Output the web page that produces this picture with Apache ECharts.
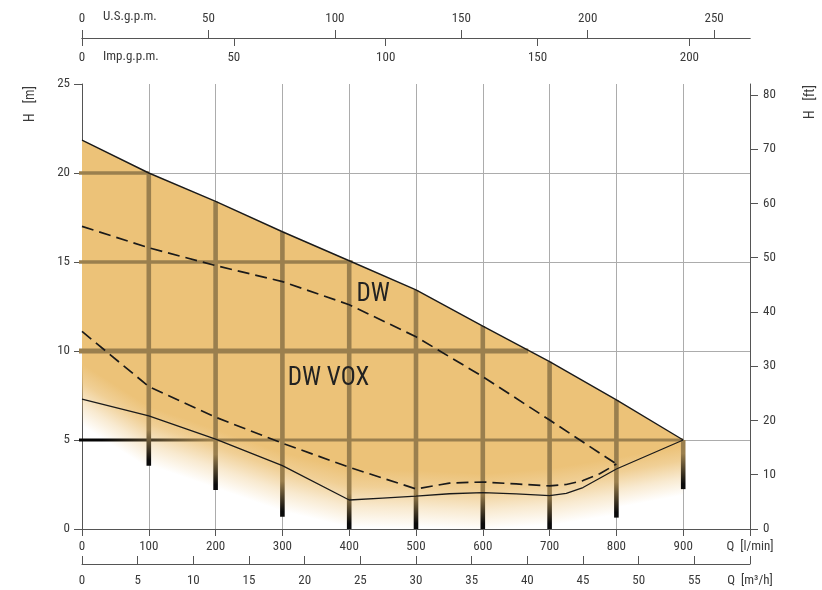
<!DOCTYPE html>
<html><head><meta charset="utf-8">
<script src="https://cdn.jsdelivr.net/npm/echarts@6/dist/echarts.min.js"></script>
<style>html,body{margin:0;padding:0;background:#fff}#c{width:822px;height:590px}</style>
</head><body><div id="c"></div>
<script>
// ---------------- data ----------------
const qTop   = [0, 100, 200, 300, 400, 500, 600, 700, 800, 900];
const hTop   = [21.85, 20.0, 18.4, 16.7, 15.07, 13.43, 11.4, 9.4, 7.25, 5.0];
const qDwMin = [0, 100, 200, 300, 400, 500, 600, 700, 800];
const hDwMin = [17.0, 15.8, 14.8, 13.9, 12.6, 10.8, 8.56, 6.12, 3.65];
const qVoxMax = [0, 100, 200, 300, 400, 500, 550, 600, 650, 700, 725, 750, 775, 800];
const hVoxMax = [11.1, 8.0, 6.28, 4.82, 3.47, 2.25, 2.58, 2.64, 2.53, 2.42, 2.5, 2.72, 3.1, 3.65];
const qVoxMin = [0, 100, 200, 300, 400, 450, 500, 550, 600, 650, 700, 725, 750, 775, 800, 900];
const hVoxMin = [7.3, 6.35, 5.05, 3.56, 1.63, 1.74, 1.85, 1.98, 2.04, 1.97, 1.88, 2.0, 2.33, 2.85, 3.37, 5.0];
// soft lower edge of the coloured field
const qFade      = [0, 100, 200, 300, 400, 500, 600, 700, 800, 900];
const hFadeStart = [9.3, 6.9, 5.6, 4.3, 3.4, 3.3, 3.1, 3.4, 4.0, 4.7];
const hFadeEnd   = [5.6, 3.6, 2.3, 1.0, 0.1, 0.0, 0.0, 0.2, 0.8, 2.3];
// thick grid bars inside the field
const vBarQ      = [100, 200, 300, 400, 500, 600, 700, 800, 900];
const vBarTop    = [20.0, 18.4, 16.7, 15.07, 13.43, 11.4, 9.4, 7.25, 5.0];
const vBarBottom = [3.56, 2.19, 0.69, 0, 0, 0, 0, 0.64, 2.24];
const hBarH   = [20, 15, 10, 5];
const hBarEnd = [100, 405, 668, 900];
// axis ticks
const qTicks   = [0, 100, 200, 300, 400, 500, 600, 700, 800, 900];
const m3hTicks = [0, 5, 10, 15, 20, 25, 30, 35, 40, 45, 50, 55];
const usTicks  = [0, 50, 100, 150, 200, 250];
const impTicks = [0, 50, 100, 150, 200];
const ftTicks  = [0, 10, 20, 30, 40, 50, 60, 70, 80];
// curve labels
const curveLabels = ['DW', 'DW VOX'];
const labelQ = [436, 369];
const labelH = [13.15, 8.43];

// ---------------- style ----------------
const FONT = "'Roboto Condensed', 'Liberation Sans Narrow', 'DejaVu Sans Condensed', 'Roboto', sans-serif";
const ORANGE = 'rgba(236,194,120,';
const BROWN = '#9a7f4e';
const AX = '#555';
const lbl = {color: '#3a3a3a', fontSize: 13, fontFamily: FONT};
const pair = (qs, hs) => qs.map((q, i) => [q, hs[i]]);

const chart = echarts.init(document.getElementById('c'), null, {renderer: 'canvas'});

function fillItem(params, api) {
  const i = params.dataIndex;
  const a = api.coord([qTop[i], hTop[i]]), b = api.coord([qTop[i + 1], hTop[i + 1]]);
  const b0 = api.coord([qTop[i + 1], 0]), a0 = api.coord([qTop[i], 0]);
  const s0 = api.coord([qFade[i], hFadeStart[i]]), s1 = api.coord([qFade[i + 1], hFadeStart[i + 1]]);
  const e0 = api.coord([qFade[i], hFadeEnd[i]]), e1 = api.coord([qFade[i + 1], hFadeEnd[i + 1]]);
  let ux = s1[0] - s0[0], uy = s1[1] - s0[1];
  const L = Math.hypot(ux, uy); ux /= L; uy /= L;
  const nx = -uy, ny = ux;
  const mx = (e0[0] + e1[0]) / 2 - s0[0], my = (e0[1] + e1[1]) / 2 - s0[1];
  const d = mx * nx + my * ny;
  return {
    type: 'polygon',
    shape: {points: [a, b, b0, a0]},
    style: {
      fill: {
        type: 'linear', global: true,
        x: s0[0], y: s0[1], x2: s0[0] + nx * d, y2: s0[1] + ny * d,
        colorStops: [
          {offset: 0, color: ORANGE + '1)'},
          {offset: 0.3, color: ORANGE + '0.78)'},
          {offset: 0.65, color: ORANGE + '0.35)'},
          {offset: 1, color: ORANGE + '0)'}
        ]
      }
    }
  };
}

function vBarItem(params, api) {
  const i = params.dataIndex;
  const t = api.coord([vBarQ[i], vBarTop[i]]);
  const bt = api.coord([vBarQ[i], vBarBottom[i]]);
  const g0 = api.coord([vBarQ[i], vBarBottom[i] + 2.0]);
  const g1 = api.coord([vBarQ[i], vBarBottom[i] + 0.3]);
  const w = 4.6;
  return {
    type: 'rect',
    shape: {x: t[0] - w / 2, y: t[1], width: w, height: bt[1] - t[1]},
    style: {
      fill: {
        type: 'linear', global: true, x: 0, y: g0[1], x2: 0, y2: g1[1],
        colorStops: [{offset: 0, color: BROWN}, {offset: 1, color: '#0a0a0a'}]
      }
    }
  };
}

function hBarItem(params, api) {
  const i = params.dataIndex;
  const h = hBarH[i];
  const l = api.coord([0, h]), r = api.coord([hBarEnd[i], h]);
  const w = h === 10 ? 5 : (h === 5 ? 3 : 3.6);
  let fill = BROWN;
  if (h === 5) {
    const k0 = api.coord([30, h]), k1 = api.coord([190, h]);
    fill = {type: 'linear', global: true, x: k0[0], y: 0, x2: k1[0], y2: 0,
      colorStops: [{offset: 0, color: '#050505'}, {offset: 1, color: BROWN}]};
  }
  return {
    type: 'rect',
    shape: {x: l[0] - 3, y: l[1] - w / 2, width: r[0] - l[0] + 3, height: w},
    style: {fill: fill}
  };
}

function textItem(params, api) {
  const i = params.dataIndex;
  const p = api.coord([labelQ[i], labelH[i]]);
  return {
    type: 'text', x: p[0], y: p[1],
    style: {text: curveLabels[i], fill: '#222', fontSize: 25, fontFamily: FONT,
      align: 'center', verticalAlign: 'middle'}
  };
}

const option = {
  backgroundColor: '#fff',
  animation: false,
  grid: {left: 82, right: 72, top: 84, bottom: 61, containLabel: false},
  xAxis: [
    { // l/min
      type: 'value', position: 'bottom', min: 0, max: 1000, interval: 100,
      axisLine: {show: true, lineStyle: {color: AX, width: 1}},
      axisTick: {show: true, length: 7, lineStyle: {color: AX}, customValues: qTicks.concat([1000])},
      axisLabel: Object.assign({margin: 11, customValues: qTicks.concat([1000]),
        formatter: v => v === 1000 ? 'Q  [l/min]' : String(v)}, lbl),
      splitLine: {show: true, lineStyle: {color: '#acacac', width: 1}}
    },
    { // m3/h
      type: 'value', position: 'bottom', offset: 35, min: 0, max: 60,
      axisLine: {show: true, onZero: false, lineStyle: {color: AX, width: 1}},
      axisTick: {show: true, inside: true, length: 8, lineStyle: {color: AX}, customValues: m3hTicks.concat([60])},
      axisLabel: Object.assign({margin: 10, customValues: m3hTicks.concat([60]),
        formatter: v => v === 60 ? 'Q  [m³/h]' : String(v)}, lbl),
      splitLine: {show: false}
    },
    { // Imp gpm
      type: 'value', position: 'top', offset: 46, min: 0, max: 1000 / 4.54609,
      axisLine: {show: true, onZero: false, lineStyle: {color: AX, width: 1}},
      axisTick: {show: true, inside: true, length: 8, lineStyle: {color: AX}, customValues: impTicks},
      axisLabel: Object.assign({inside: true, margin: 13, customValues: impTicks}, lbl),
      splitLine: {show: false}
    },
    { // US gpm
      type: 'value', position: 'top', offset: 46, min: 0, max: 1000 / 3.78541,
      axisLine: {show: true, onZero: false, lineStyle: {color: AX, width: 1}},
      axisTick: {show: true, inside: false, length: 8, lineStyle: {color: AX}, customValues: usTicks},
      axisLabel: Object.assign({margin: 13, customValues: usTicks}, lbl),
      splitLine: {show: false}
    }
  ],
  yAxis: [
    {
      type: 'value', position: 'left', min: 0, max: 25, interval: 5,
      axisLine: {show: true, lineStyle: {color: AX, width: 1}},
      axisTick: {show: true, length: 8, lineStyle: {color: AX}},
      axisLabel: Object.assign({margin: 12}, lbl),
      splitLine: {show: true, lineStyle: {color: ['#acacac', '#acacac', '#acacac', '#acacac', '#acacac', 'rgba(0,0,0,0)'], width: 1}}
    },
    {
      type: 'value', position: 'right', min: 0, max: 25 / 0.3048,
      axisLine: {show: true, onZero: false, lineStyle: {color: AX, width: 1}},
      axisTick: {show: true, length: 8, lineStyle: {color: AX}, customValues: ftTicks},
      axisLabel: Object.assign({margin: 13, customValues: ftTicks}, lbl),
      splitLine: {show: false}
    }
  ],
  graphic: [
    {type: 'text', x: 103, y: 17, style: {text: 'U.S.g.p.m.', fill: '#3a3a3a', fontSize: 13, fontFamily: FONT, align: 'left', verticalAlign: 'middle'}},
    {type: 'text', x: 103, y: 57, style: {text: 'Imp.g.p.m.', fill: '#3a3a3a', fontSize: 13, fontFamily: FONT, align: 'left', verticalAlign: 'middle'}},
    {type: 'text', x: 30, y: 104, rotation: Math.PI / 2, style: {text: 'H   [m]', fill: '#3a3a3a', fontSize: 14, fontFamily: FONT, align: 'center', verticalAlign: 'middle'}},
    {type: 'text', x: 810, y: 102, rotation: Math.PI / 2, style: {text: 'H   [ft]', fill: '#3a3a3a', fontSize: 14, fontFamily: FONT, align: 'center', verticalAlign: 'middle'}}
  ],
  series: [
    {type: 'custom', name: 'field', xAxisIndex: 0, yAxisIndex: 0, silent: true, z: 1,
      renderItem: fillItem, data: qTop.slice(0, -1).map((q, i) => i)},
    {type: 'custom', name: 'hbars', xAxisIndex: 0, yAxisIndex: 0, silent: true, z: 2, clip: false,
      renderItem: hBarItem, data: hBarH.map((h, i) => i)},
    {type: 'custom', name: 'vbars', xAxisIndex: 0, yAxisIndex: 0, silent: true, z: 3, clip: false,
      renderItem: vBarItem, data: vBarQ.map((q, i) => i)},
    {type: 'line', name: 'DW max', xAxisIndex: 0, yAxisIndex: 0, z: 5, symbol: 'none', silent: true,
      lineStyle: {color: '#1a1a1a', width: 1.4}, data: pair(qTop, hTop)},
    {type: 'line', name: 'DW min', xAxisIndex: 0, yAxisIndex: 0, z: 5, symbol: 'none', silent: true,
      lineStyle: {color: '#1a1a1a', width: 1.7, type: [12, 6]}, data: pair(qDwMin, hDwMin)},
    {type: 'line', name: 'DW VOX max', xAxisIndex: 0, yAxisIndex: 0, z: 5, symbol: 'none', silent: true,
      lineStyle: {color: '#1a1a1a', width: 1.7, type: [12, 6]}, data: pair(qVoxMax, hVoxMax)},
    {type: 'line', name: 'DW VOX min', xAxisIndex: 0, yAxisIndex: 0, z: 5, symbol: 'none', silent: true,
      lineStyle: {color: '#1a1a1a', width: 1.3}, data: pair(qVoxMin, hVoxMin)},
    {type: 'custom', name: 'labels', xAxisIndex: 0, yAxisIndex: 0, silent: true, z: 6, clip: false,
      renderItem: textItem, data: curveLabels.map((t, i) => i)}
  ]
};
chart.setOption(option);
</script>
</body></html>
